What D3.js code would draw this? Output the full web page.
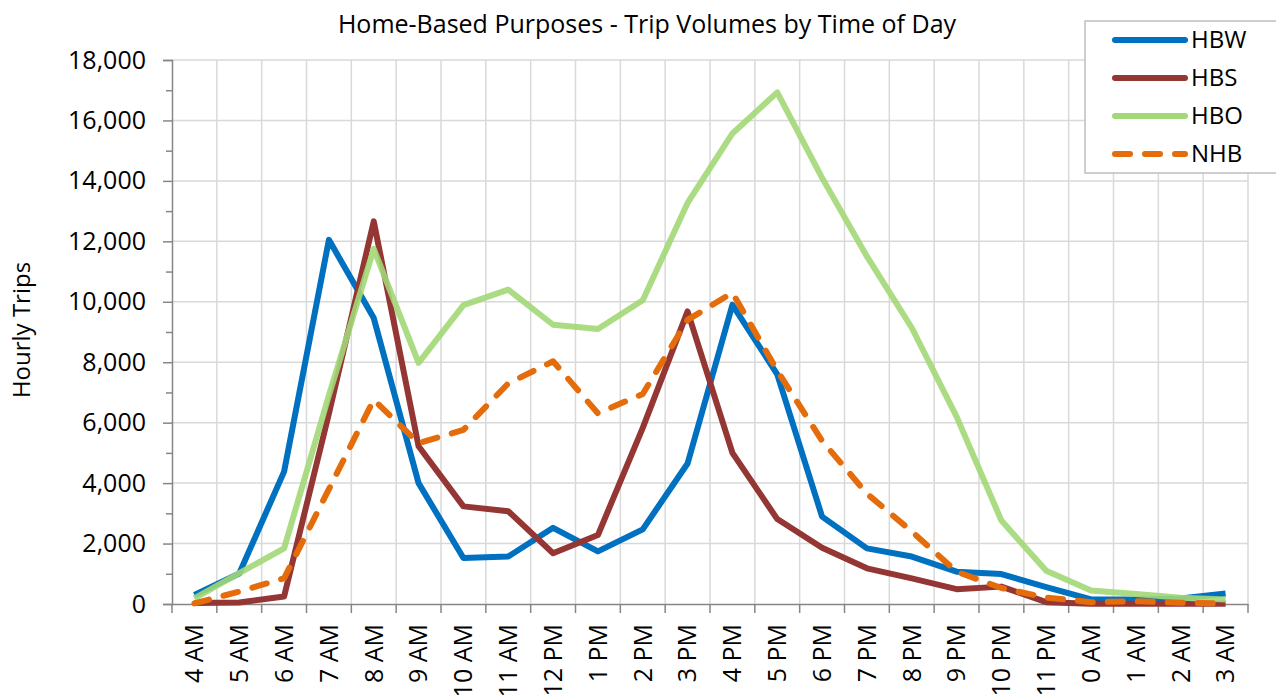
<!DOCTYPE html>
<html lang="en">
<head>
<meta charset="utf-8">
<style type="text/css">
    body { margin: 0; background: #fff; }
    text { font-family: "Open Sans", "Noto Sans", sans-serif; fill: #000; }
    .grid line { stroke: #d9d9d9; stroke-width: 1.5px; }
</style>
</head>
<body>
<svg width="1276" height="700"></svg>

<script src="https://d3js.org/d3.v7.min.js"></script>
<script type="text/javascript">
var hours = ["4 AM","5 AM","6 AM","7 AM","8 AM","9 AM","10 AM","11 AM","12 PM","1 PM","2 PM","3 PM",
             "4 PM","5 PM","6 PM","7 PM","8 PM","9 PM","10 PM","11 PM","0 AM","1 AM","2 AM","3 AM"];

var hbw = [300,1010,4380,12050,9460,4000,1520,1570,2520,1740,2470,4650,9900,7600,2890,1840,1570,1070,990,560,150,150,180,350];
var hbs = [30,50,250,6300,12660,5220,3230,3070,1680,2280,5830,9680,5000,2810,1860,1180,850,490,575,60,10,10,10,10];
var hbo = [190,1020,1840,6900,11750,7980,9890,10400,9240,9100,10050,13270,15570,16930,14100,11500,9140,6200,2760,1100,450,330,210,150];
var nhb = [20,410,850,3800,6760,5320,5760,7300,8030,6310,6950,9400,10300,7720,5400,3650,2400,1070,530,210,60,90,40,20];

var seriesNames = ["HBW","HBS","HBO","NHB"];
var seriesColors = ["#0070c0","#943634","#a2d877","#e46c0a"];
var yTicks = d3.range(0, 18001, 2000);

var svg = d3.select("svg"),
    margin = {left: 172, right: 28, top: 60, bottom: 96},
    width = +svg.attr("width") - margin.left - margin.right,
    height = +svg.attr("height") - margin.top - margin.bottom;

var g = svg.append("g").attr("transform", "translate(" + margin.left + "," + margin.top + ")");

var x = d3.scaleBand().domain(hours).range([0, width]);
var y = d3.scaleLinear().domain([0, 18000]).range([height, 0]);

// gridlines
var grid = g.append("g").attr("class", "grid");
grid.selectAll(".h").data(yTicks.slice(1)).enter().append("line")
    .attr("x1", 0).attr("x2", width)
    .attr("y1", function(d){ return y(d); }).attr("y2", function(d){ return y(d); });
grid.selectAll(".v").data(hours.slice(1).concat(["end"])).enter().append("line")
    .attr("x1", function(d, i){ return x.step() * (i + 1); })
    .attr("x2", function(d, i){ return x.step() * (i + 1); })
    .attr("y1", 0).attr("y2", height);

// y axis
var yAxis = g.append("g")
    .call(d3.axisLeft(y).tickValues(yTicks).tickSize(9).tickPadding(17).tickFormat(d3.format(",")));
yAxis.selectAll("text").style("font-size", "25px");
g.append("g")
    .call(d3.axisLeft(y).tickValues(d3.range(1000, 18000, 2000)).tickSize(6).tickFormat(""))
    .select(".domain").remove();
g.selectAll(".tick line, .domain").attr("stroke", "#868686").attr("stroke-width", 1.5);

// x axis
var xAxis = g.append("g").attr("transform", "translate(0," + height + ")")
    .call(d3.axisBottom(x).tickSize(0).tickPadding(0));
xAxis.select(".domain").attr("stroke", "#868686").attr("stroke-width", 1.5);
xAxis.selectAll("text")
    .style("font-size", "25px")
    .attr("text-anchor", "end")
    .attr("dy", "0.35em")
    .attr("transform", "translate(0,20) rotate(-90)");
g.append("g").attr("transform", "translate(0," + height + ")")
    .selectAll("line").data(d3.range(0, hours.length + 1)).enter().append("line")
    .attr("x1", function(d){ return d * x.step(); }).attr("x2", function(d){ return d * x.step(); })
    .attr("y1", 0).attr("y2", 9)
    .attr("stroke", "#868686").attr("stroke-width", 1.5);

// lines
var line = d3.line()
    .x(function(d, i){ return x(hours[i]) + x.bandwidth() / 2; })
    .y(function(d){ return y(d); });

var allSeries = [hbw, hbs, hbo, nhb];
allSeries.forEach(function(s, k){
    g.append("path")
        .datum(s)
        .attr("fill", "none")
        .attr("stroke", seriesColors[k])
        .attr("stroke-width", 6)
        .attr("stroke-linejoin", "round")
        .attr("stroke-linecap", k == 3 ? "round" : "butt")
        .attr("stroke-dasharray", k == 3 ? "15,15" : null)
        .attr("opacity", k == 2 ? 0.9 : 1)
        .attr("d", line);
});

// title
svg.append("text")
    .attr("x", 647).attr("y", 33)
    .attr("text-anchor", "middle")
    .style("font-size", "25px")
    .text("Home-Based Purposes - Trip Volumes by Time of Day");

// y title
svg.append("text")
    .attr("transform", "translate(30," + (margin.top + height / 2 - 2) + ") rotate(-90)")
    .attr("text-anchor", "middle")
    .style("font-size", "24px")
    .text("Hourly Trips");

// legend
var legend = svg.append("g").attr("transform", "translate(1085,21)");
legend.append("rect")
    .attr("width", 200).attr("height", 152)
    .attr("fill", "#fff").attr("stroke", "#bfbfbf").attr("stroke-width", 1.5);
seriesNames.forEach(function(name, k){
    var row = legend.append("g").attr("transform", "translate(0," + (19 + k * 38) + ")");
    row.append("line")
        .attr("x1", 30).attr("x2", 100)
        .attr("stroke", seriesColors[k])
        .attr("stroke-width", 6)
        .attr("stroke-linecap", "round")
        .attr("stroke-dasharray", k == 3 ? "15,15" : null);
    row.append("text")
        .attr("x", 106).attr("dy", "0.35em")
        .style("font-size", "24px")
        .text(name);
});
</script>
</body>
</html>
